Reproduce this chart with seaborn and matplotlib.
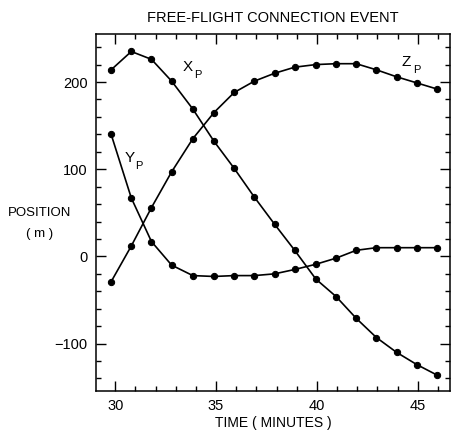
import numpy as np
import pandas as pd
import matplotlib
matplotlib.use("Agg")
import matplotlib.pyplot as plt
from matplotlib.ticker import MultipleLocator
import seaborn as sns

# Sample times (minutes) shared by all three position components
time_min = [29.8, 30.8, 31.8, 32.8, 33.85, 34.9, 35.9, 36.9, 37.9, 38.9,
            39.95, 40.95, 41.95, 42.95, 43.95, 44.95, 45.95]

# Relative position components (m)
x_p = [214, 235, 226, 201, 169, 132, 101, 68, 37, 7,
       -26, -46, -71, -93, -110, -124, -136]
y_p = [140, 67, 17, -10, -22, -23, -22, -22, -20, -15,
       -9, -2, 7, 10, 10, 10, 10]
z_p = [-29, 12, 56, 97, 135, 165, 188, 201, 210, 217,
       220, 221, 221, 214, 206, 199, 192]

series_names = ["X", "Y", "Z"]
series_values = [x_p, y_p, z_p]

# Where each curve is labelled (time, position)
label_pos = {"X": (33.35, 217), "Y": (30.45, 113), "Z": (44.2, 223)}

df = pd.concat(
    [pd.DataFrame({"time": time_min, "position": vals, "component": name})
     for name, vals in zip(series_names, series_values)],
    ignore_index=True,
)

sns.set_style("ticks")
plt.rcParams["font.family"] = ["Liberation Sans", "DejaVu Sans"]
plt.rcParams.update({
    "text.color": "black",
    "axes.labelcolor": "black",
    "xtick.color": "black",
    "ytick.color": "black",
    "axes.edgecolor": "black",
})

fig = plt.figure(figsize=(4.52, 4.36), dpi=100)
ax = fig.add_axes([0.2124, 0.1039, 0.7832, 0.818])

for name in series_names:
    sns.lineplot(data=df[df["component"] == name], x="time", y="position",
                 ax=ax, color="black", linewidth=1.2, marker="o",
                 markersize=4.5, markeredgecolor="black", legend=False)

for name, (tx, ty) in label_pos.items():
    ax.text(tx, ty, name, fontsize=11, ha="left", va="center", color="black")
    ax.text(tx + 0.55, ty - 9, "P", fontsize=8, ha="left", va="center",
            color="black")

ax.set_xlim(29.05, 46.6)
ax.set_ylim(-154, 255)
ax.xaxis.set_major_locator(MultipleLocator(5))
ax.xaxis.set_minor_locator(MultipleLocator(1))
ax.yaxis.set_major_locator(MultipleLocator(100))
ax.yaxis.set_minor_locator(MultipleLocator(20))
ax.tick_params(which="both", direction="in", top=True, right=True,
               color="black", width=1.0, labelsize=10.5, pad=6)
ax.tick_params(which="major", length=7)
ax.tick_params(which="minor", length=3.5)
ax.set_yticklabels(["" if v < -150 or v > 250 else
                    ("\u2212100" if v == -100 else f"{int(v)}")
                    for v in ax.get_yticks()])
for s in ax.spines.values():
    s.set_color("black")
    s.set_linewidth(1.1)

ax.set_xlabel("TIME ( MINUTES )", fontsize=10, labelpad=2)
ax.set_ylabel("")
ax.set_title("FREE-FLIGHT CONNECTION EVENT", fontsize=10.5, pad=9)

fig.text(40 / 452, 1 - 213 / 436, "POSITION", fontsize=9.5,
         ha="center", va="center")
fig.text(40 / 452, 1 - 234 / 436, "( m )", fontsize=9.5,
         ha="center", va="center")

fig.savefig("out.png", dpi=100)
